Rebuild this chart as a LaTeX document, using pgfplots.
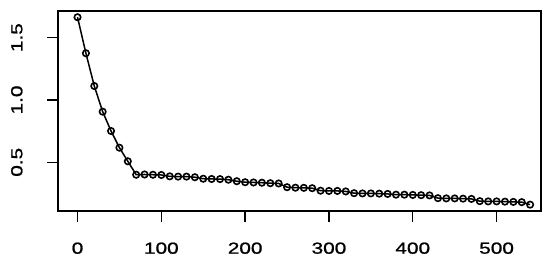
\documentclass[border=0pt]{standalone}
\usepackage{fontspec}
\setmainfont{Liberation Sans}[FakeStretch=1.3,FakeBold=1.2]
\usepackage{pgfplots}
\pgfplotsset{compat=1.18}
\begin{document}
\fontsize{16bp}{19bp}\selectfont
\begin{tikzpicture}
\begin{axis}[
  scale only axis,
  width=483bp, height=200bp,
  xmin=-23.3, xmax=553,
  ymin=0.109, ymax=1.714,
  xtick={0,100,200,300,400,500},
  ytick={0.5,1.0,1.5},
  yticklabels={0.5,1.0,1.5},
  tick align=outside,
  major tick length=11bp,
  tick style={black, line width=1.4bp},
  axis line style={black, line width=1.6bp},
  xtick pos=bottom, ytick pos=left,
  /pgf/number format/assume math mode=true,
  xticklabel style={anchor=north, yshift=-15bp, font=\fontsize{16bp}{19bp}\selectfont},
  yticklabel style={xshift=-19bp, rotate=90, anchor=south, font=\fontsize{16bp}{19bp}\selectfont},
]
\addplot[black, line width=1.5bp, mark=o, mark size=3.2bp, mark options={line width=1.6bp}] coordinates {
(0,1.664) (10,1.375) (20,1.112) (30,0.906) (40,0.751) (50,0.617) (60,0.508)
(70,0.400) (80,0.402) (90,0.400) (100,0.398)
(110,0.387) (120,0.385) (130,0.385) (140,0.380)
(150,0.368) (160,0.366) (170,0.365) (180,0.360)
(190,0.348) (200,0.340) (210,0.338) (220,0.336) (230,0.332) (240,0.330)
(250,0.300) (260,0.296) (270,0.295) (280,0.292)
(290,0.272) (300,0.270) (310,0.270) (320,0.266)
(330,0.252) (340,0.250) (350,0.250) (360,0.248) (370,0.246)
(380,0.240) (390,0.240) (400,0.238) (410,0.236) (420,0.234)
(430,0.212) (440,0.210) (450,0.210) (460,0.208) (470,0.206)
(480,0.188) (490,0.186) (500,0.186) (510,0.184) (520,0.182) (530,0.180)
(540,0.160)
};
\end{axis}
\pgfresetboundingbox
\path (current axis.south west) ++(-58bp,-49bp) rectangle ++(542bp,260bp);
\end{tikzpicture}
\end{document}
